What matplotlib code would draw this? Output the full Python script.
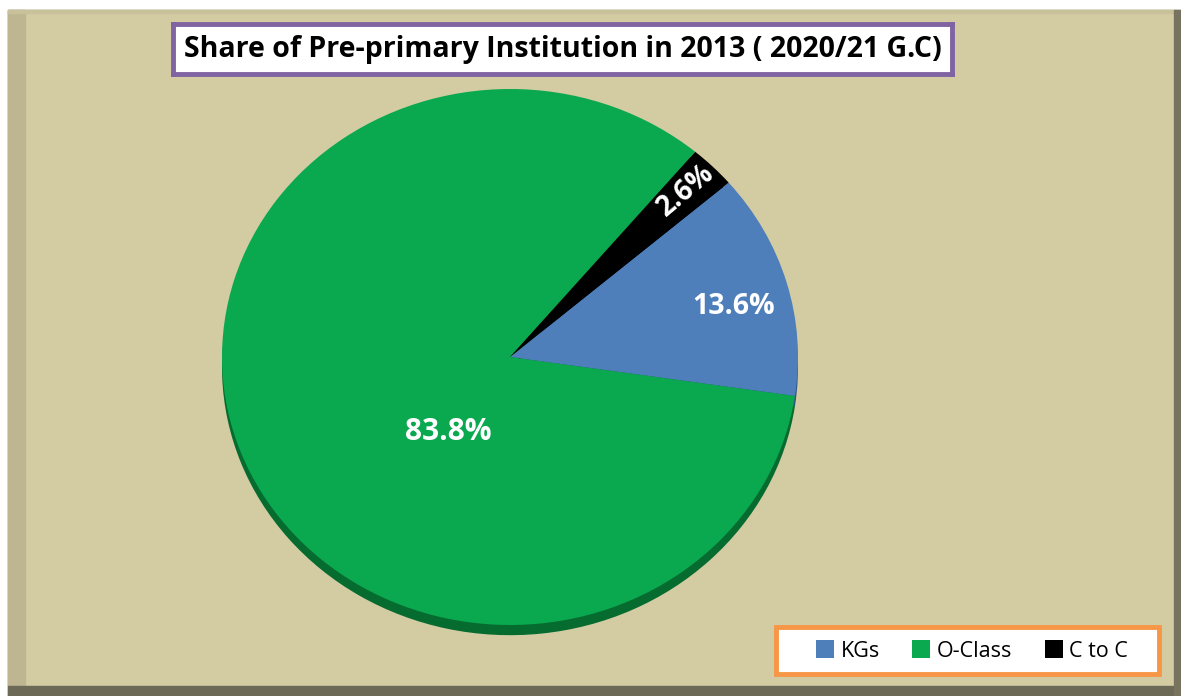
import matplotlib
matplotlib.use("Agg")
import matplotlib.pyplot as plt
from matplotlib.patches import Rectangle

categories = ["KGs", "O-Class", "C to C"]
shares = [13.6, 83.8, 2.6]
labels = ["13.6%", "83.8%", "2.6%"]
colors = ["#4f7fba", "#0aa84f", "#000000"]
side_colors = ["#2f5582", "#066b2f", "#000000"]
title = "Share of Pre-primary Institution in 2013 ( 2020/21 G.C)"

W, H = 1181, 696
fig = plt.figure(figsize=(W / 100, H / 100), dpi=100)
fig.patch.set_facecolor("white")

def px(x0, y0, x1, y1):
    # pixel box (top-left origin) to figure fraction
    return (x0 / W, 1 - y1 / H, (x1 - x0) / W, (y1 - y0) / H)

bg = fig.add_axes([0, 0, 1, 1])
bg.set_xlim(0, W)
bg.set_ylim(H, 0)
bg.axis("off")
# frame pieces
bg.add_patch(Rectangle((8, 10), 1173, 686, color="#7a765f", zorder=0))
bg.add_patch(Rectangle((8, 10), 1168, 676, color="#d3cca3", zorder=1))
bg.add_patch(Rectangle((8, 10), 17, 676, color="#bdb690", zorder=2))
bg.add_patch(Rectangle((8, 10), 1168, 3, color="#c8c19a", zorder=2))
bg.add_patch(Rectangle((8, 686), 1173, 10, color="#6d6957", zorder=3))
bg.add_patch(Rectangle((1174, 10), 7, 686, color="#77735e", zorder=3))
# legend box
bg.add_patch(Rectangle((776, 627), 383, 47, facecolor="white",
                       edgecolor="#f79646", linewidth=3.5, zorder=4))

# pie axes
cx, cy, rx, ry = 510, 357, 288, 268
m = 1.1
ax = fig.add_axes(px(cx - rx * m, cy - ry * m, cx + rx * m, cy + ry * m))
ax.set_facecolor("none")
depth = 0.038
ax.pie(shares, colors=side_colors, startangle=40.6, counterclock=False,
       center=(0, -depth), wedgeprops=dict(linewidth=0))
wedges, _ = ax.pie(shares, colors=colors, startangle=40.6, counterclock=False,
                   wedgeprops=dict(linewidth=0))
ax.set_aspect("auto")
ax.set_xlim(-m, m)
ax.set_ylim(-m, m)

lab_pos = [(0.775, 0.19), (-0.215, -0.28), (0.61, 0.62)]
lab_rot = [0, 0, 40]
lab_size = [20.5, 21.5, 20]
for t, (x, y), r, s in zip(labels, lab_pos, lab_rot, lab_size):
    ax.text(x, y, t, color="white", fontsize=s, fontweight="bold",
            family="Open Sans", ha="center", va="center", rotation=r)

# title box
tb = fig.add_axes(px(173, 24, 952, 74))
tb.set_xticks([]); tb.set_yticks([])
tb.set_facecolor("white")
for s in tb.spines.values():
    s.set_edgecolor("#8064a2"); s.set_linewidth(3.5)
tb.text(0.5, 0.48, title, ha="center", va="center", fontsize=20.5,
        fontweight="bold", family="Open Sans", transform=tb.transAxes)

# legend
leg = fig.legend(wedges, categories, ncol=3, loc="center",
                 bbox_to_anchor=(972 / W, 1 - 651 / H),
                 prop=dict(family="Open Sans", size=15.5),
                 handlelength=0.85, handleheight=0.85, handletextpad=0.3,
                 columnspacing=1.5, frameon=False, borderaxespad=0)

fig.savefig("out.png", dpi=100)
